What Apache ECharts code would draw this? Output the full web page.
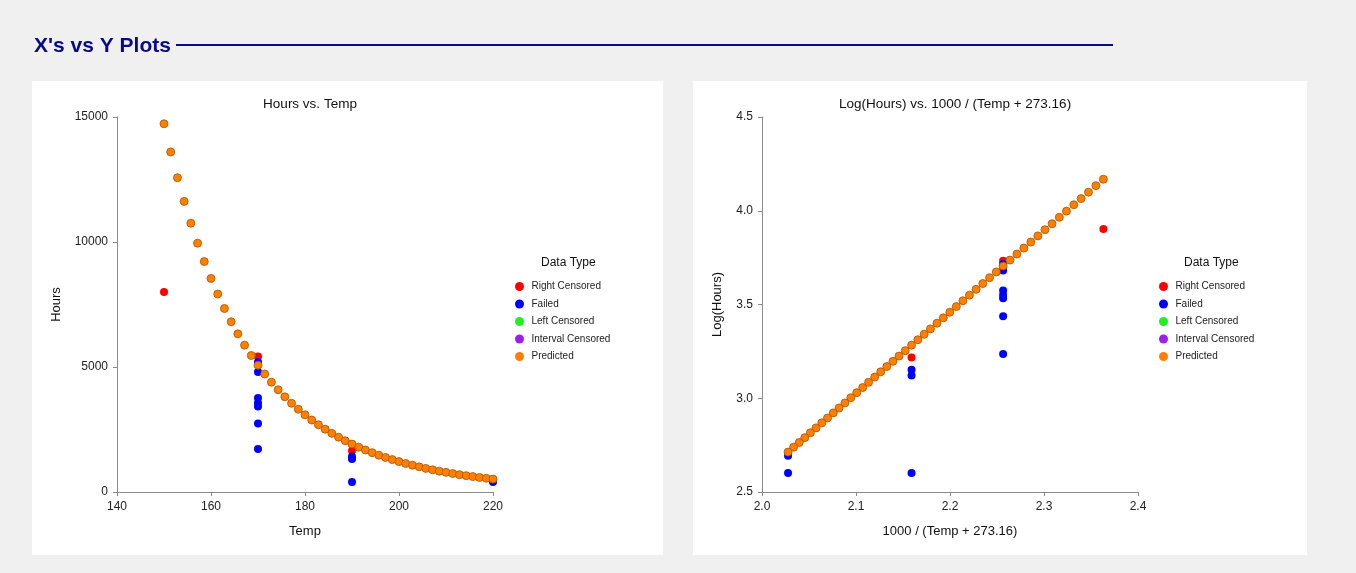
<!DOCTYPE html>
<html>
<head>
<meta charset="utf-8">
<script src="https://cdn.jsdelivr.net/npm/echarts@6/dist/echarts.min.js"></script>
<style>
html,body{margin:0;padding:0;background:#f0f0f0;}
#chart{width:1356px;height:573px;}
</style>
</head>
<body>
<div id="chart"></div>
<script>
// ---- Data ----
const seriesNames = ['Right Censored', 'Failed', 'Left Censored', 'Interval Censored', 'Predicted'];

// Left chart: Hours vs. Temp
const rcTemp = [150, 170, 190];
const rcHours = [8000, 5420, 1650];
const failTemp = [170, 170, 170, 170, 170, 170, 170, 190, 190, 190, 220, 220];
const failHours = [5200, 4800, 3760, 3560, 3420, 2740, 1720, 1420, 1320, 400, 494, 400];
const predTemp = [150.00, 151.43, 152.86, 154.29, 155.71, 157.14, 158.57, 160.00, 161.43, 162.86,
  164.29, 165.71, 167.14, 168.57, 170.00, 171.43, 172.86, 174.29, 175.71, 177.14,
  178.57, 180.00, 181.43, 182.86, 184.29, 185.71, 187.14, 188.57, 190.00, 191.43,
  192.86, 194.29, 195.71, 197.14, 198.57, 200.00, 201.43, 202.86, 204.29, 205.71,
  207.14, 208.57, 210.00, 211.43, 212.86, 214.29, 215.71, 217.14, 218.57, 220.00];
const predHours = [14730, 13602, 12571, 11624, 10753, 9952, 9216, 8541, 7918, 7341,
  6811, 6326, 5875, 5461, 5075, 4720, 4393, 4090, 3809, 3549,
  3310, 3087, 2879, 2689, 2511, 2346, 2193, 2050, 1917, 1795,
  1680, 1573, 1474, 1382, 1296, 1216, 1141, 1071, 1006, 945,
  888, 835, 786, 739, 695, 655, 617, 581, 548, 516];

// Right chart: Log(Hours) vs. 1000 / (Temp + 273.16)
const rcX = [2.3632, 2.2565, 2.1591];
const rcLog = [3.903, 3.734, 3.217];
const failX = [2.2565, 2.2565, 2.2565, 2.2565, 2.2565, 2.2565, 2.2565, 2.1591, 2.1591, 2.1591, 2.0277, 2.0277];
const failLog = [3.716, 3.681, 3.575, 3.551, 3.534, 3.438, 3.236, 3.152, 3.121, 2.602, 2.694, 2.602];
const predX = [2.3632, 2.3552, 2.3473, 2.3395, 2.3317, 2.3239, 2.3163, 2.3086, 2.3010, 2.2935,
  2.2860, 2.2786, 2.2712, 2.2638, 2.2565, 2.2493, 2.2421, 2.2349, 2.2278, 2.2207,
  2.2137, 2.2067, 2.1998, 2.1929, 2.1861, 2.1792, 2.1725, 2.1658, 2.1591, 2.1524,
  2.1458, 2.1393, 2.1328, 2.1263, 2.1199, 2.1134, 2.1071, 2.1008, 2.0945, 2.0882,
  2.0820, 2.0758, 2.0697, 2.0636, 2.0575, 2.0515, 2.0455, 2.0396, 2.0336, 2.0277];
const predLog = [4.168, 4.134, 4.099, 4.065, 4.032, 3.998, 3.965, 3.931, 3.899, 3.866,
  3.833, 3.801, 3.769, 3.737, 3.705, 3.674, 3.643, 3.612, 3.581, 3.550,
  3.520, 3.489, 3.459, 3.429, 3.400, 3.370, 3.341, 3.312, 3.283, 3.254,
  3.225, 3.197, 3.169, 3.141, 3.113, 3.085, 3.057, 3.030, 3.003, 2.975,
  2.948, 2.922, 2.895, 2.869, 2.842, 2.816, 2.790, 2.764, 2.739, 2.713];

// ---- Styling ----
const FONT = "'Liberation Sans', Arial, sans-serif";
const colors = {
  'Right Censored': '#ff0000',
  'Failed': '#0000ff',
  'Left Censored': '#22ee22',
  'Interval Censored': '#9a1ff0',
  'Predicted': '#ff8000'
};
function zip(a, b) { return a.map((v, i) => [v, b[i]]); }

function axisCommon(extra, fmt) {
  return Object.assign({
    axisLine: { show: true, onZero: false, lineStyle: { color: '#8a8a8a', width: 1 } },
    axisTick: { show: true, inside: false, length: 4, lineStyle: { color: '#8a8a8a' } },
    axisLabel: { color: '#222', fontSize: 12, fontFamily: FONT, margin: 9, formatter: fmt },
    splitLine: { show: false },
    nameLocation: 'middle',
    nameTextStyle: { color: '#111', fontSize: 13, fontFamily: FONT }
  }, extra);
}
const fmtInt = v => String(Math.round(v));
const fmt1 = v => v.toFixed(1);

function makeSeries(gi, datasets) {
  const out = [];
  seriesNames.forEach(name => {
    const isPred = name === 'Predicted';
    out.push({
      name: name,
      type: 'scatter',
      xAxisIndex: gi,
      yAxisIndex: gi,
      symbol: 'circle',
      symbolSize: 8,
      z: isPred ? 5 : 3,
      itemStyle: {
        color: colors[name],
        opacity: 1,
        borderColor: isPred ? '#a85300' : colors[name],
        borderWidth: isPred ? 0.8 : 0
      },
      emphasis: { disabled: true },
      data: datasets[name] || []
    });
  });
  return out;
}

const leftData = {
  'Right Censored': zip(rcTemp, rcHours),
  'Failed': zip(failTemp, failHours),
  'Predicted': zip(predTemp, predHours)
};
const rightData = {
  'Right Censored': zip(rcX, rcLog),
  'Failed': zip(failX, failLog),
  'Predicted': zip(predX, predLog)
};

const legendCommon = {
  orient: 'vertical',
  icon: 'circle',
  itemWidth: 14,
  itemHeight: 9,
  itemGap: 7.5,
  selectedMode: false,
  padding: 0,
  itemStyle: { borderWidth: 0 },
  textStyle: { color: '#222', fontSize: 10, fontFamily: FONT },
  data: seriesNames
};

const option = {
  backgroundColor: '#f0f0f0',
  animation: false,
  title: [
    { text: "X's vs Y Plots", left: 29, top: 31,
      textStyle: { color: '#0a0a88', fontSize: 21, fontWeight: 'bold', fontFamily: FONT } },
    { text: 'Hours vs. Temp', left: 305, top: 92, textAlign: 'center',
      textStyle: { color: '#111', fontSize: 13.5, fontWeight: 'normal', fontFamily: FONT } },
    { text: 'Log(Hours) vs. 1000 / (Temp + 273.16)', left: 950, top: 92, textAlign: 'center',
      textStyle: { color: '#111', fontSize: 13.5, fontWeight: 'normal', fontFamily: FONT } }
  ],
  graphic: [
    { type: 'rect', z: -10, shape: { x: 32, y: 81, width: 631, height: 474 }, style: { fill: '#ffffff' } },
    { type: 'rect', z: -10, shape: { x: 693, y: 81, width: 614, height: 474 }, style: { fill: '#ffffff' } },
    { type: 'line', shape: { x1: 176, y1: 45, x2: 1113, y2: 45 }, style: { stroke: '#0a0a88', lineWidth: 2 } },
    { type: 'text', left: 541, top: 257, style: { text: 'Data Type', fill: '#111', fontSize: 12, fontFamily: FONT } },
    { type: 'text', left: 1184, top: 257, style: { text: 'Data Type', fill: '#111', fontSize: 12, fontFamily: FONT } }
  ],
  legend: [
    Object.assign({ left: 515, top: 281.5 }, legendCommon),
    Object.assign({ left: 1159, top: 281.5 }, legendCommon)
  ],
  grid: [
    { left: 117, top: 117, width: 376, height: 375 },
    { left: 762, top: 117, width: 376, height: 375 }
  ],
  xAxis: [
    axisCommon({ gridIndex: 0, type: 'value', min: 140, max: 220, interval: 20, name: 'Temp', nameGap: 33 }, fmtInt),
    axisCommon({ gridIndex: 1, type: 'value', min: 2.0, max: 2.4, interval: 0.1, name: '1000 / (Temp + 273.16)', nameGap: 33 }, fmt1)
  ],
  yAxis: [
    axisCommon({ gridIndex: 0, type: 'value', min: 0, max: 15000, interval: 5000, name: 'Hours', nameGap: 54 }, fmtInt),
    axisCommon({ gridIndex: 1, type: 'value', min: 2.5, max: 4.5, interval: 0.5, name: 'Log(Hours)', nameGap: 38 }, fmt1)
  ],
  series: makeSeries(0, leftData).concat(makeSeries(1, rightData))
};

const chart = echarts.init(document.getElementById('chart'), null, { renderer: 'canvas' });
chart.setOption(option);
</script>
</body>
</html>
